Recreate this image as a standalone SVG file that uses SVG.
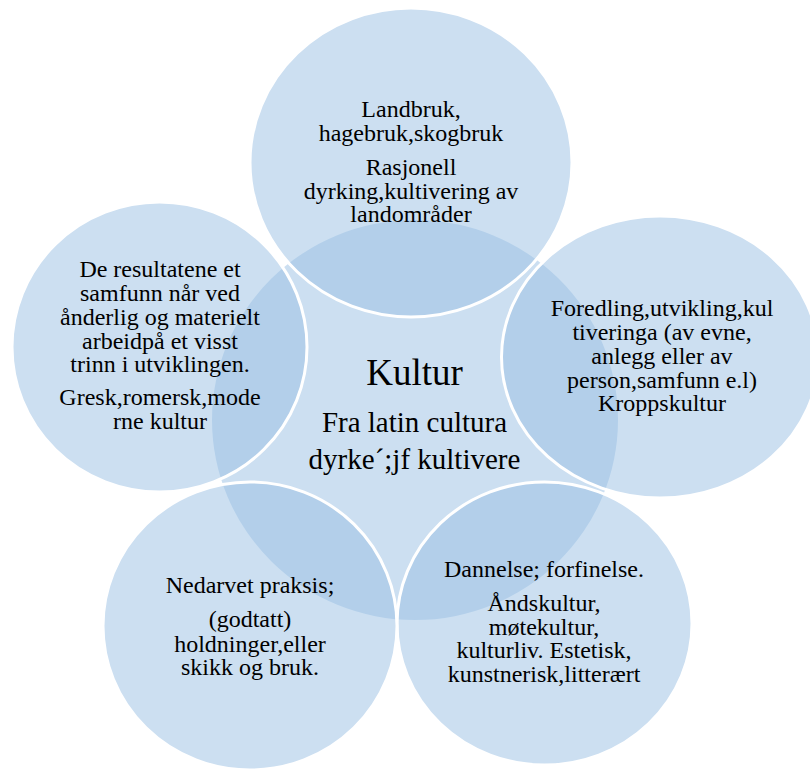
<svg xmlns="http://www.w3.org/2000/svg" width="810" height="771" viewBox="0 0 810 771">
<style>
.c{fill:#99c0e3;fill-opacity:0.5}
.o{fill:#99c0e3;fill-opacity:0.5;stroke:#ffffff;stroke-width:3}
text{font-family:"Liberation Serif","Times New Roman",serif;fill:#000;text-anchor:middle}
.t{font-size:24px}
.s{font-size:29px}
.k{font-size:37px}
</style>
<rect width="810" height="771" fill="#ffffff"/>
<g id="center">
<ellipse class="c" cx="415" cy="420" rx="203" ry="200"/>
</g>
<g id="top">
<ellipse class="o" cx="411" cy="162.5" rx="161" ry="154.5"/>
<text class="t" x="411" y="117">Landbruk,</text>
<text class="t" x="411" y="141">hagebruk,skogbruk</text>
<text class="t" x="411" y="175">Rasjonell</text>
<text class="t" x="411" y="199">dyrking,kultivering av</text>
<text class="t" x="411" y="222">landområder</text>
</g>
<g id="right">
<ellipse class="o" cx="660" cy="357" rx="158.5" ry="141"/>
<text class="t" x="662" y="316">Foredling,utvikling,kul</text>
<text class="t" x="662" y="340">tiveringa (av evne,</text>
<text class="t" x="662" y="363.5">anlegg eller av</text>
<text class="t" x="662" y="388">person,samfunn e.l)</text>
<text class="t" x="662" y="411">Kroppskultur</text>
</g>
<g id="bottom-right">
<ellipse class="o" cx="544.5" cy="623.5" rx="147.5" ry="141.5"/>
<text class="t" x="544" y="577">Dannelse; forfinelse.</text>
<text class="t" x="544" y="611">Åndskultur,</text>
<text class="t" x="544" y="634.5">møtekultur,</text>
<text class="t" x="544" y="658">kulturliv. Estetisk,</text>
<text class="t" x="544" y="682">kunstnerisk,litterært</text>
</g>
<g id="bottom-left">
<ellipse class="o" cx="250" cy="626" rx="147" ry="144"/>
<text class="t" x="250" y="593">Nedarvet praksis;</text>
<text class="t" x="250" y="627">(godtatt)</text>
<text class="t" x="250" y="651.5">holdninger,eller</text>
<text class="t" x="250" y="675">skikk og bruk.</text>
</g>
<g id="left">
<ellipse class="o" cx="159.5" cy="347" rx="147.5" ry="145"/>
<text class="t" x="160" y="277">De resultatene et</text>
<text class="t" x="160" y="301">samfunn når ved</text>
<text class="t" x="160" y="324.5">ånderlig og materielt</text>
<text class="t" x="160" y="348.5">arbeidpå et visst</text>
<text class="t" x="160" y="372">trinn i utviklingen.</text>
<text class="t" x="160" y="405">Gresk,romersk,mode</text>
<text class="t" x="160" y="429">rne kultur</text>
</g>
<g id="center-text">
<text class="k" x="414.5" y="385">Kultur</text>
<text class="s" x="414.5" y="431.5">Fra latin cultura</text>
<text class="s" x="414.5" y="469">dyrke´;jf kultivere</text>
</g>
</svg>
